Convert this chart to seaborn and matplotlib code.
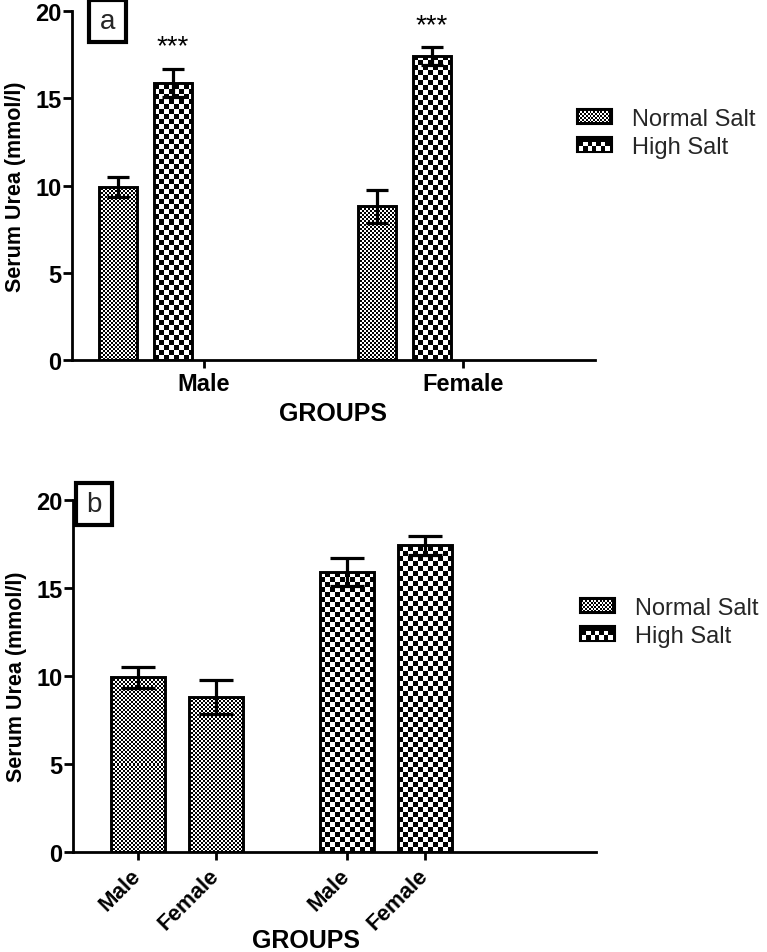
import numpy as np
import pandas as pd
import matplotlib
matplotlib.use("Agg")
import matplotlib.pyplot as plt
import seaborn as sns
from matplotlib.patches import Rectangle
from matplotlib.legend_handler import HandlerBase

# ---------------- data ----------------
sexes = ["Male", "Female"]
diets = ["Normal Salt", "High Salt"]
normal_mean = [9.9, 8.8]
normal_sem = [0.58, 0.95]
high_mean = [15.9, 17.4]
high_sem = [0.80, 0.52]
y_ticks = [0, 5, 10, 15, 20]
stars_a = ["***", "***"]   # significance marks above High Salt bars (panel a)
ylabel = "Serum Urea (mmol/l)"
xlabel = "GROUPS"

df = pd.DataFrame({
    "sex": sexes * 2,
    "diet": [diets[0]] * 2 + [diets[1]] * 2,
    "mean": normal_mean + high_mean,
    "sem": normal_sem + high_sem,
})

# ---------------- style ----------------
sns.set_theme(style="ticks")
plt.rcParams["font.family"] = ["Liberation Sans", "DejaVu Sans"]
CELL_PX = {"Normal Salt": 2, "High Salt": 5}
CELL_PT = {"Normal Salt": 1.3, "High Salt": 3.2}

fig = plt.figure(figsize=(7.67, 9.53), dpi=100)
W, H = 767.0, 953.0


def checker_fill(ax, bar, cell):
    x0 = bar.get_x(); x1 = x0 + bar.get_width()
    y0 = bar.get_y(); y1 = y0 + bar.get_height()
    (px0, py0), (px1, py1) = ax.transData.transform([(x0, y0), (x1, y1)])
    nx = max(int(round(px1 - px0)), 1)
    ny = max(int(round(py1 - py0)), 1)
    yy, xx = np.mgrid[0:ny, 0:nx]
    arr = ((xx // cell + yy // cell) % 2).astype(float)
    ax.imshow(arr, cmap="gray", vmin=0, vmax=1, extent=(x0, x1, y0, y1),
              origin="lower", interpolation="nearest", aspect="auto", zorder=1.5)
    bar.set_facecolor("none")
    bar.set_edgecolor("black")
    bar.set_linewidth(2.1)
    bar.set_zorder(2)


class CheckerHandler(HandlerBase):
    def __init__(self, cell):
        super().__init__()
        self.cell = cell

    def create_artists(self, legend, orig_handle, xdescent, ydescent,
                       width, height, fontsize, trans):
        arts = [Rectangle((-xdescent, -ydescent), width, height,
                          facecolor="black", edgecolor="black", lw=1.5,
                          transform=trans)]
        c = self.cell
        inset = 1.2
        nx = int((width - 2 * inset) // c)
        ny = int((height - 2 * inset) // c)
        for i in range(nx):
            for j in range(ny):
                if (i + j) % 2 == 0:
                    arts.append(Rectangle((-xdescent + inset + i * c,
                                           -ydescent + inset + j * c), c, c,
                                          facecolor="white", edgecolor="none",
                                          transform=trans))
        return arts


def style_axes(ax):
    sns.despine(ax=ax)
    for s in ["left", "bottom"]:
        ax.spines[s].set_linewidth(2.0)
        ax.spines[s].set_color("black")
    ax.set_ylim(0, 20)
    ax.set_yticks(y_ticks)
    ax.tick_params(axis="y", length=6.5, width=2.0, pad=1, labelsize=17, colors="black")
    ax.tick_params(axis="x", length=5.5, width=2.0, pad=3, labelsize=17, colors="black")
    for lab in ax.get_yticklabels() + ax.get_xticklabels():
        lab.set_fontweight("bold")
    ax.set_ylabel(ylabel, fontsize=15.5, fontweight="bold", color="black")
    ax.yaxis.set_label_coords(-0.088, 0.5)
    ax.set_facecolor("white")


def add_legend(anchor):
    hn = Rectangle((0, 0), 1, 1)
    hh = Rectangle((0, 0), 1, 1)
    fig.legend([hn, hh], diets, loc="center left", bbox_to_anchor=anchor,
               frameon=False, fontsize=17, handlelength=1.5, handleheight=0.6,
               handletextpad=0.85, labelspacing=0.27, borderpad=0, borderaxespad=0,
               handler_map={hn: CheckerHandler(CELL_PT[diets[0]]),
                            hh: CheckerHandler(CELL_PT[diets[1]])})


def label_box(x0, y0, x1, y1, letter):
    fig.patches.append(Rectangle((x0 / W, 1 - y1 / H), (x1 - x0) / W, (y1 - y0) / H,
                                 transform=fig.transFigure, facecolor="white",
                                 edgecolor="black", lw=3, zorder=5))
    fig.text((x0 + x1) / 2 / W, 1 - (y0 + y1) / 2 / H, letter, ha="center",
             va="center", fontsize=20, zorder=6)


# ---------------- panel a ----------------
ax1 = fig.add_axes([72 / W, 1 - 361 / H, 523 / W, 349 / H])
sns.barplot(data=df, x="sex", y="mean", hue="diet", order=sexes, hue_order=diets,
            width=0.425, gap=0.31, errorbar=None, legend=False, ax=ax1)
ax1.set_xlim(-0.284, 1.735)
ax1.set_ylim(0, 20)
bar_conts = list(ax1.containers)
for k, cont in enumerate(bar_conts):
    d = diets[k]
    sub = df[df["diet"] == d].set_index("sex").loc[sexes]
    for i, bar in enumerate(cont):
        checker_fill(ax1, bar, CELL_PX[d])
        xc = bar.get_x() + bar.get_width() / 2
        ax1.errorbar(xc, sub["mean"].iloc[i], yerr=sub["sem"].iloc[i], fmt="none",
                     ecolor="black", elinewidth=2.3, capsize=8, capthick=2.3, zorder=3)
        if d == diets[1]:
            ax1.text(xc, sub["mean"].iloc[i] + sub["sem"].iloc[i] + 0.88, stars_a[i],
                     ha="center", va="baseline", fontsize=20, color="black")
ax1.set_xlim(-0.284, 1.735)
ax1.set_xticks(np.arange(len(sexes)) + 0.226, sexes)
style_axes(ax1)
ax1.set_xlabel(xlabel, fontsize=18, fontweight="bold", color="black")
ax1.xaxis.set_label_coords(0.5, -0.118)
add_legend((577 / W, 1 - 134 / H))
label_box(89, 1, 126, 43, "a")

# ---------------- panel b ----------------
ax2 = fig.add_axes([72.7 / W, 1 - 852.7 / H, 523.3 / W, 352 / H])
sns.barplot(data=df, x="diet", y="mean", hue="sex", order=diets, hue_order=sexes,
            width=0.746, gap=0.31, errorbar=None, legend=False, ax=ax2)
ax2.set_xlim(-0.499, 2.005)
ax2.set_ylim(0, 20)
ticks = []
bar_conts = list(ax2.containers)
for k, cont in enumerate(bar_conts):
    s = sexes[k]
    sub = df[df["sex"] == s].set_index("diet").loc[diets]
    for i, bar in enumerate(cont):
        checker_fill(ax2, bar, CELL_PX[diets[i]])
        xc = bar.get_x() + bar.get_width() / 2
        ax2.errorbar(xc, sub["mean"].iloc[i], yerr=sub["sem"].iloc[i], fmt="none",
                     ecolor="black", elinewidth=2.3, capsize=12, capthick=2.3, zorder=3)
        ticks.append((xc, s))
ticks.sort()
ax2.set_xlim(-0.499, 2.005)
ax2.set_xticks([t[0] for t in ticks], [t[1] for t in ticks])
style_axes(ax2)
for lab in ax2.get_xticklabels():
    lab.set_rotation(45)
    lab.set_ha("right")
    lab.set_va("center")
    lab.set_rotation_mode("anchor")
ax2.tick_params(axis="x", pad=9, labelsize=16)
ax2.set_xlabel(xlabel, fontsize=18, fontweight="bold", color="black")
ax2.xaxis.set_label_coords(0.446, -0.216)
add_legend((580 / W, 1 - 623 / H))
label_box(76, 484, 112, 526, "b")

fig.savefig("out.png", dpi=100, facecolor="white")
